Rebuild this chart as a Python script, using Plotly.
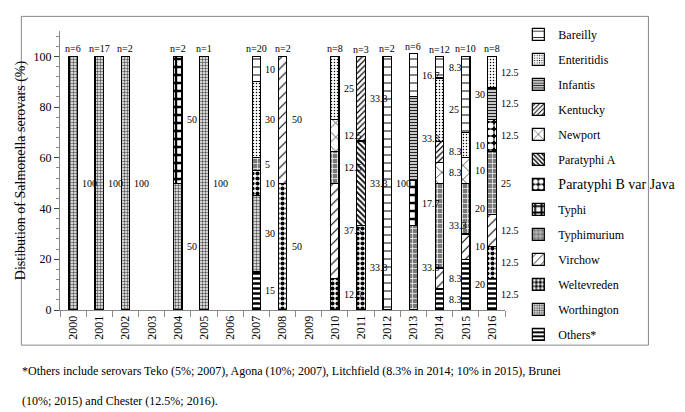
import plotly.graph_objs as go

years = list(range(2000, 2017))
n_counts = ["n=6", "n=17", "n=2", "", "n=2", "n=1", "", "n=20", "n=2", "",
            "n=8", "n=3", "n=2", "n=6", "n=12", "n=10", "n=8"]

# % of isolates per serovar and year (None = not found)
#            2000 2001 2002 2003  2004  2005  2006  2007  2008  2009  2010  2011  2012  2013  2014  2015  2016
others      = [None, None, None, None, None, None, None, 15,   None, None, None, None, None, None, 8.3,  20,   12.5]
worthington = [100,  100,  100,  None, 50,   100,  None, 30,   None, None, None, None, None, None, None, None, None]
weltevreden = [None, None, None, None, None, None, None, 10,   50,   None, 12.5, 33.3, None, None, None, None, 12.5]
virchow     = [None, None, None, None, None, None, None, None, 50,   None, 37.5, None, None, None, 8.3,  10,   12.5]
typhimurium = [None, None, None, None, None, None, None, 5,    None, None, 12.5, None, None, 33.3, 33.3, 20,   25]
typhi       = [None, None, None, None, 50,   None, None, None, None, None, None, None, None, 17.7, None, None, None]
para_b_java = [None, None, None, None, None, None, None, None, None, None, None, None, None, None, None, None, 12.5]
para_a      = [None, None, None, None, None, None, None, None, None, None, None, 33.3, None, None, None, None, None]
newport     = [None, None, None, None, None, None, None, None, None, None, 12.5, None, None, None, 8.3,  10,   None]
kentucky    = [None, None, None, None, None, None, None, None, None, None, None, 33.3, None, None, 8.3,  None, None]
infantis    = [None, None, None, None, None, None, None, None, None, None, None, None, None, 33.3, None, None, 12.5]
enteritidis = [None, None, None, None, None, None, None, 30,   None, None, 25,   None, None, None, 25,   10,   12.5]
bareilly    = [None, None, None, None, None, None, None, 10,   None, None, None, None, 100,  16.7, 8.3,  30,   None]

# stacking order bottom -> top, with fill patterns (bg, shape, fg, size, solidity)
series = [
    ("Others*", others, ("white", "-", "black", 5, 0.5)),
    ("Worthington", worthington, ("white", ".", "#555", 3, 0.5)),
    ("Weltevreden", weltevreden, ("white", ".", "black", 5, 0.55)),
    ("Virchow", virchow, ("white", "/", "black", 7, 0.15)),
    ("Typhimurium", typhimurium, ("#7a7a7a", "+", "white", 5, 0.25)),
    ("Typhi", typhi, ("white", "+", "black", 8, 0.5)),
    ("<span style='font-size:14px'>Paratyphi B var Java</span>", para_b_java, ("black", ".", "white", 7, 0.6)),
    ("Paratyphi A", para_a, ("white", "\\", "black", 4, 0.45)),
    ("Newport", newport, ("white", "x", "black", 10, 0.12)),
    ("Kentucky", kentucky, ("white", "/", "black", 4, 0.3)),
    ("Infantis", infantis, ("white", "-", "#222", 3, 0.5)),
    ("Enteritidis", enteritidis, ("white", ".", "black", 3, 0.2)),
    ("Bareilly", bareilly, ("white", "-", "black", 8, 0.12)),
]

FONT = "Liberation Serif, Times New Roman, serif"

fig = go.Figure()
for i, (name, vals, (bg, shape, fg, size, sol)) in enumerate(series):
    fig.add_trace(go.Bar(
        x=years, y=vals, name=name,
        width=0.32,
        legendgroup=str(i),
        legendrank=100 - i,
        marker=dict(color=bg,
                    line=dict(color="black", width=1.2),
                    pattern=dict(shape=shape, fgcolor=fg, bgcolor=bg,
                                 size=size, solidity=sol, fillmode="replace")),
    ))

# value labels to the right of each segment, n= labels on top
annotations = []
totals = [0.0] * len(years)
for name, vals, _ in series:
    for j, v in enumerate(vals):
        if v is None:
            continue
        annotations.append(dict(x=years[j], y=totals[j] + v / 2, text=f"{v:g}",
                                xanchor="left", yanchor="middle", xshift=7,
                                showarrow=False, font=dict(size=10)))
        totals[j] += v
for j, t in enumerate(n_counts):
    if t:
        annotations.append(dict(x=years[j], y=totals[j], text=t, yanchor="bottom",
                                yshift=0, showarrow=False, font=dict(size=10)))

annotations.append(dict(xref="paper", yref="paper", x=-0.0888, y=-0.217, xanchor="left",
                        yanchor="middle", showarrow=False, font=dict(size=12),
                        text="*Others include serovars Teko (5%; 2007), Agona (10%; 2007), "
                             "Litchfield (8.3% in 2014; 10% in 2015), Brunei"))
annotations.append(dict(xref="paper", yref="paper", x=-0.0888, y=-0.325, xanchor="left",
                        yanchor="middle", showarrow=False, font=dict(size=12),
                        text="(10%; 2015) and Chester (12.5%; 2016)."))

fig.update_layout(
    width=685, height=412,
    barmode="stack",
    font=dict(family=FONT, size=12, color="black"),
    paper_bgcolor="white", plot_bgcolor="white",
    margin=dict(l=43, r=158, t=16, b=110),
    annotations=annotations,
    legend=dict(x=1.03, y=1.04, xanchor="left", yanchor="top",
                traceorder="grouped", tracegroupgap=6, maxheight=400,
                font=dict(size=12), bgcolor="rgba(0,0,0,0)"),
    shapes=[dict(type="rect", xref="paper", yref="paper",
                 x0=-0.0868, x1=1.3223, y0=-0.1259, y1=1.0524,
                 line=dict(color="#888", width=1))],
)
fig.update_xaxes(range=[1999.5, 2016.5], tickvals=years, ticktext=[str(y) for y in years],
                 tickangle=-90, ticks="", showline=True, linecolor="#888", showgrid=False,
                 zeroline=False,
                 minor=dict(tick0=1999.5, dtick=1, ticks="outside", ticklen=6,
                            tickcolor="#888", showgrid=False))
fig.update_yaxes(range=[0, 110], tickvals=[0, 20, 40, 60, 80, 100],
                 ticks="outside", ticklen=5, showline=True, linecolor="#888",
                 showgrid=False, zeroline=False,
                 minor=dict(dtick=4, ticks="outside", ticklen=3, tickcolor="#888"),
                 title=dict(text="Distibution of Salmonella serovars (%)", standoff=4))

fig.write_html("out.html")
